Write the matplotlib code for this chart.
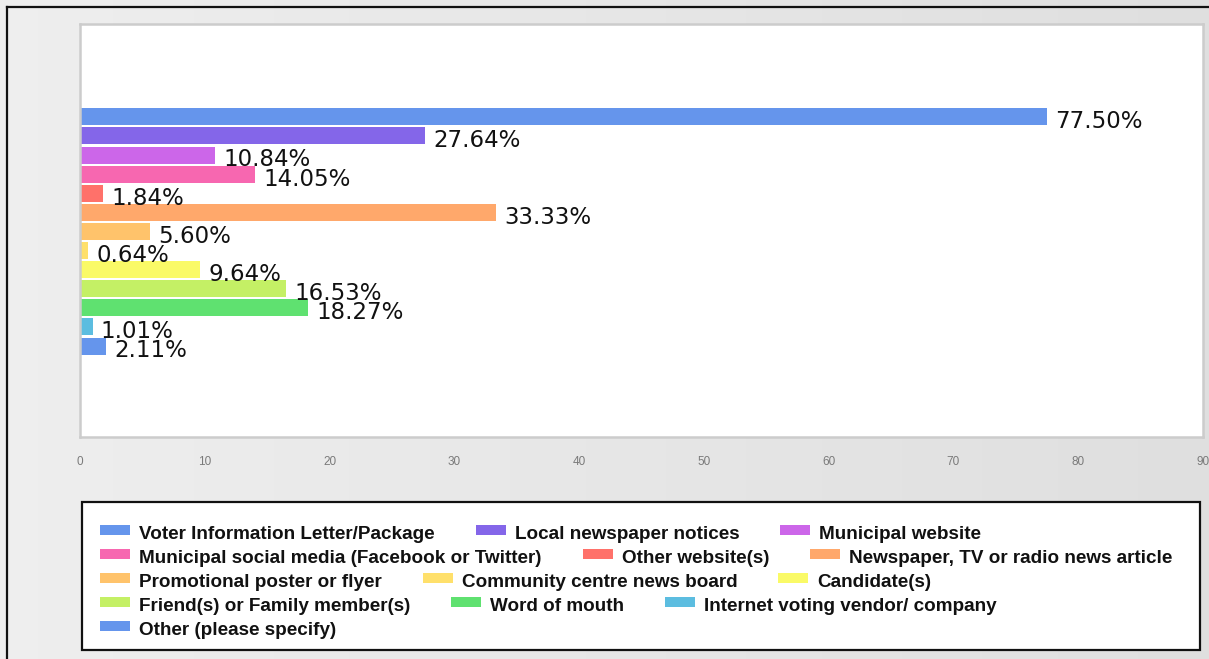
import numpy as np
import matplotlib
matplotlib.use("Agg")
import matplotlib.pyplot as plt
from matplotlib.patches import Rectangle
from matplotlib.lines import Line2D

# answer options, share of respondents (%) and bar colours
sources = [
    "Voter Information Letter/Package",
    "Local newspaper notices",
    "Municipal website",
    "Municipal social media (Facebook or Twitter)",
    "Other website(s)",
    "Newspaper, TV or radio news article",
    "Promotional poster or flyer",
    "Community centre news board",
    "Candidate(s)",
    "Friend(s) or Family member(s)",
    "Word of mouth",
    "Internet voting vendor/ company",
    "Other (please specify)",
]
percent = [77.50, 27.64, 10.84, 14.05, 1.84, 33.33, 5.60, 0.64, 9.64, 16.53, 18.27, 1.01, 2.11]
colors = ["#6595ec", "#8466e9", "#cc66e9", "#f767b0", "#ff716a", "#ffa86b", "#ffc36b",
          "#ffe06b", "#fafa67", "#c4f065", "#5fe170", "#5cbde0", "#6595ec"]
xticks = [0, 10, 20, 30, 40, 50, 60, 70, 80, 90]
legend_rows = [3, 3, 3, 3, 1]

W, H = 1209, 659
fig = plt.figure(figsize=(W / 100, H / 100), dpi=100)


def fx(px):
    return px / W


def fy(py):
    # py measured from top
    return 1 - py / H


# gray gradient background
bg = fig.add_axes([0, 0, 1, 1], zorder=-10)
grad = np.linspace(0.935, 0.875, 256).reshape(1, -1)
bg.imshow(np.dstack([grad, grad, grad]), aspect="auto", extent=[0, 1, 0, 1])
bg.set_xlim(0, 1)
bg.set_ylim(0, 1)
bg.axis("off")

# outer black frame (top and left visible)
fig.add_artist(Line2D([fx(7), fx(7)], [0, fy(7)], color="#111111", lw=1.6))
fig.add_artist(Line2D([fx(7), 1], [fy(7), fy(7)], color="#111111", lw=1.6))

# plot area
left, right, top, bottom = 80, 1203, 24, 437
ax = fig.add_axes([fx(left), fy(bottom), fx(right - left), (bottom - top) / H])
ax.set_facecolor("white")
for s in ax.spines.values():
    s.set_color("#cccccc")
    s.set_linewidth(1.8)

ypos = np.arange(len(percent))
ax.barh(ypos, percent, height=0.89, color=colors, edgecolor="none")
for y, v in zip(ypos, percent):
    ax.annotate(f"{v:.2f}%", (v, y), xytext=(6, -3.5), textcoords="offset points",
                ha="left", va="center", fontsize=16.5, color="#111111",
                family="DejaVu Sans")

ax.set_xlim(0, 90)
ax.set_ylim(16.76, -4.86)
ax.set_yticks([])
ax.set_xticks(xticks)
ax.set_xticklabels([str(t) for t in xticks], fontsize=8.5, color="#7a7a7a",
                   family="Liberation Sans")
ax.tick_params(axis="x", length=0, pad=14)

# legend box with flowing items
lx0, lx1, ly0, ly1 = 82, 1200, 502, 650
fig.add_artist(Rectangle((fx(lx0), fy(ly1)), fx(lx1 - lx0), (ly1 - ly0) / H,
                         facecolor="white", edgecolor="#111111", lw=1.6,
                         transform=fig.transFigure))

renderer = fig.canvas.get_renderer()
idx = 0
base = 539
for n in legend_rows:
    x = 100
    for _ in range(n):
        fig.add_artist(Rectangle((fx(x), fy(base - 4)), fx(30), 10 / H,
                                 facecolor=colors[idx], edgecolor="none",
                                 transform=fig.transFigure))
        t = fig.text(fx(x + 39), fy(base), sources[idx], fontsize=13.6,
                     fontweight="bold", family="Liberation Sans", color="#111111",
                     ha="left", va="baseline")
        w = t.get_window_extent(renderer).width
        x = x + 39 + w + 41
        idx += 1
    base += 24.1

fig.savefig("out.png", dpi=100)
